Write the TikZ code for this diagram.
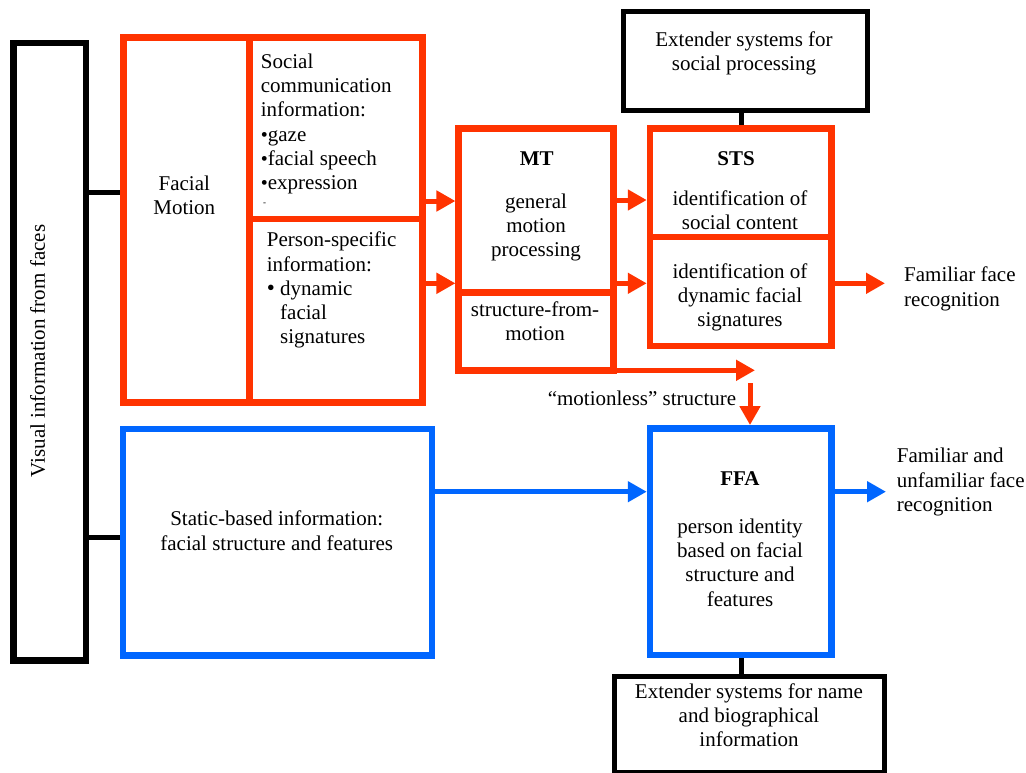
\documentclass[tikz,border=0pt]{standalone}
\usepackage{fontspec}
\setmainfont{Liberation Serif}
\usetikzlibrary{arrows.meta}
\definecolor{redc}{RGB}{255,51,0}
\definecolor{bluec}{RGB}{0,102,255}
\newcommand\sbul{{\fontsize{20}{20}\selectfont\textbullet}}
\newcommand\bbul{{\fontsize{23}{24}\selectfont\textbullet}}
\begin{document}
\begin{tikzpicture}[x=1pt,y=-1pt,
  box/.style={draw, inner sep=0pt},
  redbox/.style={box, draw=redc, line width=6.5pt},
  bluebox/.style={box, draw=bluec, line width=6.5pt},
  blkbox/.style={box, draw=black, line width=6.5pt},
  extbox/.style={box, draw=black, line width=5pt},
  txt/.style={inner sep=0pt, font=\fontsize{21}{24.2}\selectfont},
  ttl/.style={inner sep=0pt, font=\fontsize{21}{24.2}\selectfont\bfseries},
  link/.style={draw=black, line width=5pt},
  redarr/.style={draw=redc, line width=5pt, -{Triangle[length=19pt,width=20pt]}},
  bluearr/.style={draw=bluec, line width=5pt, -{Triangle[length=19pt,width=20pt]}}
]
\fill[white] (0,0) rectangle (1026,772);
\useasboundingbox (0,0) rectangle (1026,772);

% boxes
\node[blkbox, minimum width=72.3pt, minimum height=617.5pt] (vis) at (49.85,351.75) {};
\node[redbox, minimum width=126pt, minimum height=365pt] (fm) at (186.3,220.2) {};
\node[redbox, minimum width=173pt, minimum height=181.3pt] (soc) at (335.8,128.35) {};
\node[redbox, minimum width=173pt, minimum height=183.7pt] (pers) at (335.8,310.85) {};
\node[redbox, minimum width=154.6pt, minimum height=163.8pt] (mtA) at (536,210.6) {};
\node[redbox, minimum width=154.6pt, minimum height=77.8pt] (mtB) at (536,331.4) {};
\node[redbox, minimum width=181.7pt, minimum height=108.3pt] (stsA) at (740.85,182.85) {};
\node[redbox, minimum width=181.7pt, minimum height=109pt] (stsB) at (740.85,291.5) {};
\node[extbox, minimum width=244.7pt, minimum height=99pt] (extTop) at (745.35,60.5) {};
\node[bluebox, minimum width=309pt, minimum height=226.3pt] (stat) at (277.5,542.15) {};
\node[bluebox, minimum width=181.3pt, minimum height=226.7pt] (ffa) at (740.65,541.65) {};
\node[extbox, minimum width=270.7pt, minimum height=96pt] (extBot) at (749.35,724) {};

% texts
\node[txt, anchor=base, rotate=90] (vistxt) at (45,351) {Visual information from faces};
\node[txt, anchor=north, align=center] (fmtxt) at (184.3,173.06) {\strut Facial\\Motion};
\node[txt, anchor=north west, align=left] (soctxt) at (260.7,51.36)
  {\strut Social\\communication\\information:\\\sbul gaze\\\sbul facial speech\\\sbul expression};
\node[inner sep=0pt, font=\fontsize{9}{9}\selectfont] (dash) at (264.5,204) {-};
\node[txt, anchor=north west, align=left] (perstxt) at (266.7,229.76)
  {\strut Person-specific\\information:\\\makebox[13.3pt][l]{\bbul}dynamic\\\hspace*{13.3pt}facial\\\hspace*{13.3pt}signatures};
\node[ttl, anchor=base] (mtttl) at (536.7,165.7) {MT};
\node[txt, anchor=north, align=center] (mttxt) at (536,191.06) {\strut general\\motion\\processing};
\node[txt, anchor=north, align=center] (sfmtxt) at (535,299.06) {\strut structure-from-\\motion};
\node[ttl, anchor=base] (ststtl) at (736,165.7) {STS};
\node[txt, anchor=north, align=center] (ststxtA) at (740,188.06) {\strut identification of\\social content};
\node[txt, anchor=north, align=center] (ststxtB) at (740,261.36) {\strut identification of\\dynamic facial\\signatures};
\node[txt, anchor=north west, align=left] (fftxt) at (904,264.76) {\strut Familiar face\\recognition};
\node[txt, anchor=north, align=center] (exttxt) at (744,29.06) {\strut Extender systems for\\social processing};
\node[txt, anchor=base] (mltxt) at (642,405) {“motionless” structure};
\node[txt, anchor=north, align=center] (stattxt) at (276.7,508.76) {\strut Static-based information:\\facial structure and features};
\node[ttl, anchor=base] (ffattl) at (740,485) {FFA};
\node[txt, anchor=north, align=center] (ffatxt) at (740,516.36) {\strut person identity\\based on facial\\structure and\\features};
\node[txt, anchor=north west, align=left] (fatxt) at (896.7,445.76) {\strut Familiar and\\unfamiliar face\\recognition};
\node[txt, anchor=north, align=center] (extbtxt) at (749,681.36) {\strut Extender systems for name\\and biographical\\information};

% helper coordinates
\coordinate (cx) at (741,0);
\coordinate (fftip) at (885,283.3);
\coordinate (fatip) at (886,491.7);
\coordinate (mlA) at (755,370.3);
\coordinate (mlB) at (750,383.3);

% connectors
\draw[link] (vis.east |- 0,192.3) -- (fm.west |- 0,192.3);
\draw[link] (vis.east |- 0,537) -- (stat.west |- 0,537);
\draw[link] (cx |- extTop.south) -- (cx |- stsA.north);
\draw[link] (cx |- ffa.south) -- (cx |- extBot.north);

\draw[redarr] (soc.east |- 0,201) -- (mtA.west |- 0,201);
\draw[redarr] (pers.east |- 0,283.3) -- (mtA.west |- 0,283.3);
\draw[redarr] (mtA.east |- 0,200) -- (stsA.west |- 0,200);
\draw[redarr] (mtA.east |- 0,283.3) -- (stsB.west |- 0,283.3);
\draw[redarr] (stsB.east |- fftip) -- (fftip);
\draw[redarr] (mtB.east |- mlA) -- (mlA);
\draw[redarr] (mlB) -- (mlB |- ffa.north);

\draw[bluearr] (stat.east |- 0,491.7) -- (ffa.west |- 0,491.7);
\draw[bluearr] (ffa.east |- fatip) -- (fatip);
\end{tikzpicture}
\end{document}
